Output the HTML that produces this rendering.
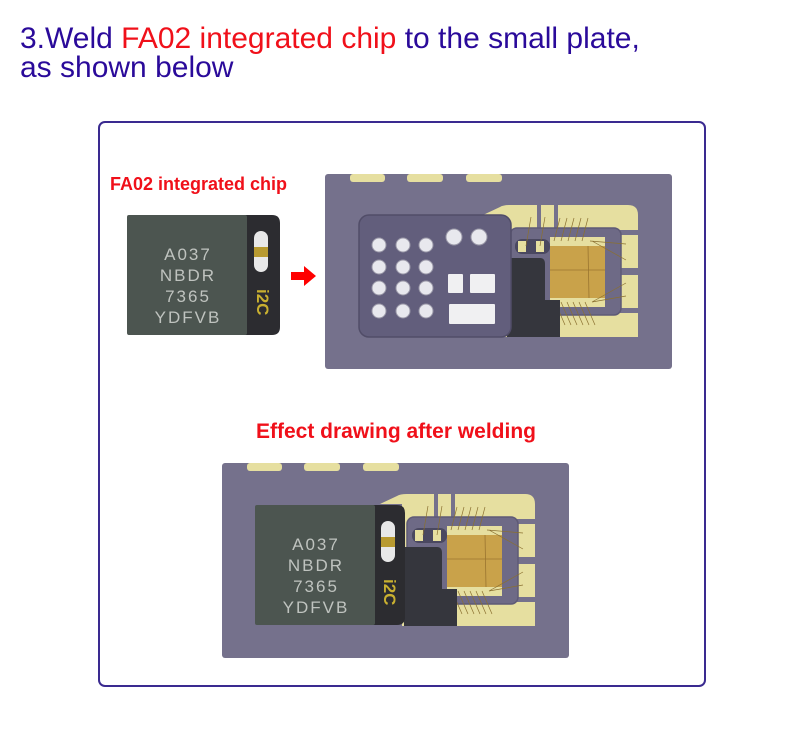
<!DOCTYPE html>
<html><head><meta charset="utf-8"><style>
body{margin:0;background:#fff;width:800px;height:731px;overflow:hidden;font-family:"Liberation Sans",sans-serif}
</style></head><body>
<svg width="800" height="731" viewBox="0 0 800 731" xmlns="http://www.w3.org/2000/svg" font-family="Liberation Sans, sans-serif">
<defs>
<g id="traces">
  <path d="M483,215 L500,207 Q503,205 510,205 L628,205 Q638,205 638,215 L638,337 L505,337 L505,215 Z" fill="#e6dfa0"/>
  <rect x="537" y="204" width="4" height="28" fill="#75718c"/>
  <rect x="554" y="204" width="4" height="28" fill="#75718c"/>
  <rect x="612" y="230" width="28" height="5" fill="#75718c"/>
  <rect x="612" y="268" width="28" height="7" fill="#75718c"/>
  <rect x="612" y="308" width="28" height="5" fill="#75718c"/>
  <rect x="510" y="228" width="111" height="87" rx="7" fill="#6e6a86" stroke="#5e5a76" stroke-width="1.5"/>
  <!-- small cap -->
  <rect x="515" y="239" width="35" height="15" rx="7" fill="#4a4860"/>
  <rect x="518" y="241" width="8" height="11" fill="#e6dfa0"/><rect x="536" y="241" width="8" height="11" fill="#e6dfa0"/>
  <!-- gold chip -->
  <rect x="550" y="237" width="55" height="70" fill="#c9a24a"/>
  <rect x="550" y="237" width="55" height="9" fill="#e6dfa0"/>
  <rect x="550" y="298" width="55" height="9" fill="#e6dfa0"/>
  <path d="M550,270 L605,270 M588,246 L589,298" stroke="#9a7530" stroke-width="0.8"/>
  <g stroke="#8a7030" stroke-width="0.7">
    <path d="M554,241 L560,218 M561,241 L567,218 M568,241 L574,218 M575,241 L581,218 M582,241 L588,218 M526,246 L531,217 M540,246 L545,217 M590,241 L626,244 M592,241 L626,260 M555,302 L565,325 M561,302 L571,325 M567,302 L577,325 M573,302 L583,325 M579,302 L589,325 M585,302 L595,325 M592,302 L626,296 M592,302 L626,283" fill="none"/>
  </g>
</g>
<g id="plate">
  <rect x="325" y="174" width="347" height="195" rx="3" fill="#75718c"/>
  <rect x="350" y="174" width="35" height="8" rx="3" fill="#e6dfa0"/>
  <rect x="407" y="174" width="36" height="8" rx="3" fill="#e6dfa0"/>
  <rect x="466" y="174" width="36" height="8" rx="3" fill="#e6dfa0"/>
  <use href="#traces"/>
  <path d="M507,258 L540,258 Q545,258 545,264 L545,300 L560,300 L560,337 L507,337 Z" fill="#35363d"/>
</g>
</defs>

<text x="20" y="48" font-size="30" fill="#2a0a9a">3.Weld <tspan fill="#f0101a">FA02 integrated chip</tspan> to the small plate,</text>
<text x="20" y="77" font-size="30" fill="#2a0a9a">as shown below</text>

<rect x="99" y="122" width="606" height="564" rx="6" fill="none" stroke="#3a2a90" stroke-width="2"/>

<text x="110" y="190" font-size="18" font-weight="bold" fill="#f0101a">FA02 integrated chip</text>

<!-- loose chip -->
<path d="M240,215 L272,215 Q280,215 280,223 L280,327 Q280,335 272,335 L240,335 Z" fill="#2c2c30"/>
<rect x="127" y="215" width="120" height="120" rx="2" fill="#4c5550"/>
<g font-size="17" fill="#bfc3bf" text-anchor="middle" letter-spacing="2">
<text x="188" y="260">A037</text><text x="188" y="281">NBDR</text><text x="188" y="302">7365</text><text x="188" y="323">YDFVB</text>
</g>
<rect x="254" y="231" width="14" height="41" rx="7" fill="#e8e8e8"/>
<rect x="254" y="247" width="14" height="10" fill="#b89a30"/>
<text x="0" y="0" font-size="17" font-weight="bold" fill="#c9b030" transform="translate(257,289) rotate(90)">i2C</text>

<!-- arrow -->
<path d="M291,272 L304,272 L304,266 L316,276 L304,286 L304,280 L291,280 Z" fill="#f00"/>

<!-- top plate -->
<use href="#plate"/>
<rect x="359" y="215" width="152" height="122" rx="10" fill="#625e7c" stroke="#514d68" stroke-width="1.5"/>
<g fill="#e8e8ee" stroke="#9a98a8" stroke-width="1">
<circle cx="379" cy="245" r="7"/><circle cx="403" cy="245" r="7"/><circle cx="426" cy="245" r="7"/>
<circle cx="379" cy="267" r="7"/><circle cx="403" cy="267" r="7"/><circle cx="426" cy="267" r="7"/>
<circle cx="379" cy="288" r="7"/><circle cx="403" cy="288" r="7"/><circle cx="426" cy="288" r="7"/>
<circle cx="379" cy="311" r="7"/><circle cx="403" cy="311" r="7"/><circle cx="426" cy="311" r="7"/>
<circle cx="454" cy="237" r="8"/><circle cx="479" cy="237" r="8"/>
</g>
<g fill="#f0f0f2"><rect x="448" y="274" width="15" height="19" rx="1"/><rect x="470" y="274" width="25" height="19" rx="1"/><rect x="449" y="304" width="46" height="20" rx="1"/></g>

<text x="396" y="438" font-size="21" font-weight="bold" fill="#f0101a" text-anchor="middle">Effect drawing after welding</text>

<!-- bottom plate -->
<g transform="translate(-103,289)"><use href="#plate"/></g>
<path d="M370,505 L397,505 Q405,505 405,513 L405,617 Q405,625 397,625 L370,625 Z" fill="#2c2c30"/>
<rect x="255" y="505" width="120" height="120" rx="2" fill="#4c5550"/>
<g font-size="17" fill="#bfc3bf" text-anchor="middle" letter-spacing="2">
<text x="316" y="550">A037</text><text x="316" y="571">NBDR</text><text x="316" y="592">7365</text><text x="316" y="613">YDFVB</text>
</g>
<rect x="381" y="521" width="14" height="41" rx="7" fill="#e8e8e8"/>
<rect x="381" y="537" width="14" height="10" fill="#b89a30"/>
<text x="0" y="0" font-size="17" font-weight="bold" fill="#c9b030" transform="translate(384,579) rotate(90)">i2C</text>
</svg>
</body></html>
